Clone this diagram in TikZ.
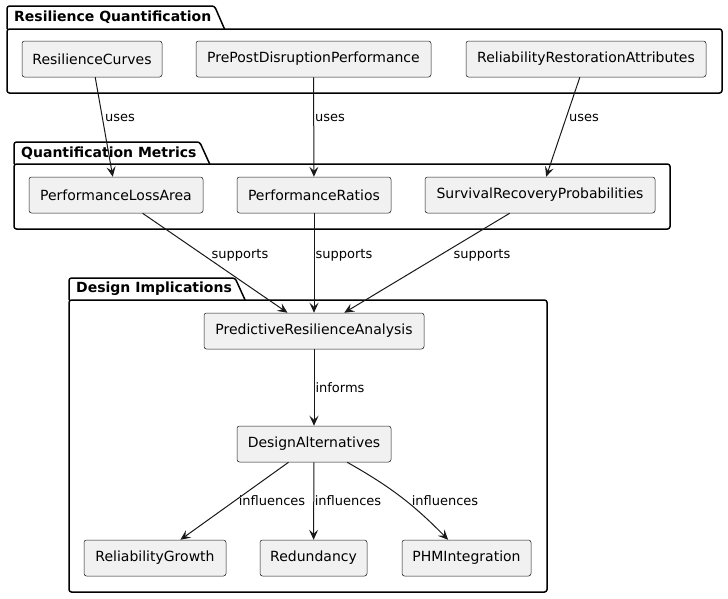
\documentclass[tikz,border=0pt]{standalone}
\usepackage{fontspec}
\setmainfont{DejaVu Sans}
\usetikzlibrary{arrows.meta}
\definecolor{boxfill}{HTML}{F1F1F1}
\definecolor{boxline}{HTML}{181818}

\begin{document}
\begin{tikzpicture}[x=1pt, y=-1pt,
    comp/.style={draw=boxline, line width=0.5pt, fill=boxfill, rounded corners=2.5pt,
      minimum height=36pt, inner sep=0pt, font=\fontsize{14}{16}\selectfont},
    pkg/.style={draw=black, line width=1.5pt, rounded corners=2.5pt},
    pkgtitle/.style={anchor=west, inner sep=0pt, font=\fontsize{14}{16}\selectfont\bfseries},
    lbl/.style={inner sep=0pt, font=\fontsize{13}{15}\selectfont},
    link/.style={draw=boxline, line width=1pt, -{Stealth[length=10pt,width=9pt,inset=4pt]}}]
  \useasboundingbox (0,0) rectangle (728,598);

  % Packages
  \foreach \name/\xa/\ya/\yb/\xb/\yc/\title in {
      pquant/7/6/29/722/93/Resilience Quantification,
      pmetric/14/142/164/670/229/Quantification Metrics,
      pdesign/69/278/300/547/592/Design Implications} {
    \node[pkgtitle] (\name) at (\xa+7, {(\ya+\yb)/2}) {\title};
    \draw[pkg] (\xa,\yb) -- (\xa,\ya) -- ([xshift=3pt]\name.east |- 0,\ya)
      -- ([xshift=13pt]\name.east |- 0,\yb);
    \draw[pkg] (\xa,\yb) rectangle (\xb,\yc);
  }

  % Resilience Quantification
  \node[comp, minimum width=140pt] (curves)  at (92,59)    {ResilienceCurves};
  \node[comp, minimum width=235pt] (prepost) at (313.5,59) {PrePostDisruptionPerformance};
  \node[comp, minimum width=240pt] (restore) at (586,59)   {ReliabilityRestorationAttributes};

  % Quantification Metrics
  \node[comp, minimum width=174pt] (lossarea) at (116,195) {PerformanceLossArea};
  \node[comp, minimum width=154pt] (ratios)   at (314,195) {PerformanceRatios};
  \node[comp, minimum width=230pt] (survival) at (540,195) {SurvivalRecoveryProbabilities};

  % Design Implications
  \node[comp, minimum width=220pt] (predict)  at (314,331)   {PredictiveResilienceAnalysis};
  \node[comp, minimum width=154pt] (alts)     at (314,444)   {DesignAlternatives};
  \node[comp, minimum width=142pt] (growth)   at (155,558)   {ReliabilityGrowth};
  \node[comp, minimum width=107pt] (redund)   at (313.5,558) {Redundancy};
  \node[comp, minimum width=129pt] (phm)      at (466.5,558) {PHMIntegration};

  % Links
  \draw[link] (curves) -- (lossarea);
  \draw[link] (prepost) -- (ratios);
  \draw[link] (restore) -- (survival);
  \draw[link] (lossarea) -- (predict);
  \draw[link] (ratios) -- (predict);
  \draw[link] (survival) -- (predict);
  \draw[link] (predict) -- (alts);
  \draw[link] (alts) -- (growth);
  \draw[link] (alts) -- (redund);
  \draw[link] (alts) to[bend left=8] (phm);

  % Link labels
  \node[lbl] (uses1) at (120,118) {uses};
  \node[lbl] (uses2) at (330,118) {uses};
  \node[lbl] (uses3) at (584,118) {uses};
  \node[lbl] (sup1)  at (240,255) {supports};
  \node[lbl] (sup2)  at (344,255) {supports};
  \node[lbl] (sup3)  at (482,255) {supports};
  \node[lbl] (inf0)  at (340,388) {informs};
  \node[lbl] (inf1)  at (272,501) {influences};
  \node[lbl] (inf2)  at (348,501) {influences};
  \node[lbl] (inf3)  at (445,501) {influences};

\end{tikzpicture}
\end{document}
